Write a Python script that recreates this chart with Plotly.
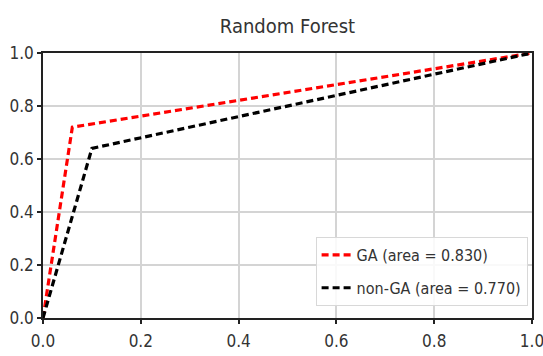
import plotly.graph_objects as go

ga_fpr = [0.0, 0.06, 1.0]
ga_tpr = [0.0, 0.72, 1.0]
non_fpr = [0.0, 0.10, 1.0]
non_tpr = [0.0, 0.64, 1.0]
ga_name = "GA (area = 0.830)"
non_name = "non-GA (area = 0.770)"
tick_vals = [0.0, 0.2, 0.4, 0.6, 0.8, 1.0]
tick_text = ["0.0", "0.2", "0.4", "0.6", "0.8", "1.0"]

FONT = "DejaVu Sans Condensed, DejaVu Sans, sans-serif"

fig = go.Figure()
fig.add_trace(go.Scatter(x=ga_fpr, y=ga_tpr, mode="lines", name=ga_name, legendgroup="a",
                         line=dict(color="#ff0000", width=3.2, dash="7px,4px")))
fig.add_trace(go.Scatter(x=non_fpr, y=non_tpr, mode="lines", name=non_name, legendgroup="b",
                         line=dict(color="#000000", width=3.2, dash="7px,4px")))

axis_common = dict(range=[0, 1], tickvals=tick_vals, ticktext=tick_text,
                   showgrid=True, gridcolor="#d4d4d4", gridwidth=1.5,
                   showline=True, linecolor="#222222", linewidth=1.5, mirror=True,
                   ticks="outside", ticklen=4, tickcolor="#222222", tickwidth=1.5,
                   zeroline=False, automargin=False, ticklabeloverflow="allow",
                   tickfont=dict(family=FONT, size=17, color="#333333"))
fig.update_xaxes(**axis_common, ticklabelstandoff=3)
fig.update_yaxes(**axis_common)

fig.update_layout(
    width=543, height=356,
    margin=dict(l=43, r=11, t=53, b=38),
    paper_bgcolor="white", plot_bgcolor="white",
    title=dict(text="Random Forest", x=0.5, xref="paper", xanchor="center",
               y=0.927, yanchor="middle",
               font=dict(family=FONT, size=20, color="#333333")),
    legend=dict(x=0.991, xanchor="right", y=0.045, yanchor="bottom",
                traceorder="grouped", tracegroupgap=9,
                bgcolor="rgba(255,255,255,0.85)", bordercolor="#d8d8d8", borderwidth=1,
                font=dict(family=FONT, size=16, color="#333333")),
    showlegend=True,
)

fig.write_html("out.html", config={"displayModeBar": False},
               post_script="document.body.style.margin='0px';")
